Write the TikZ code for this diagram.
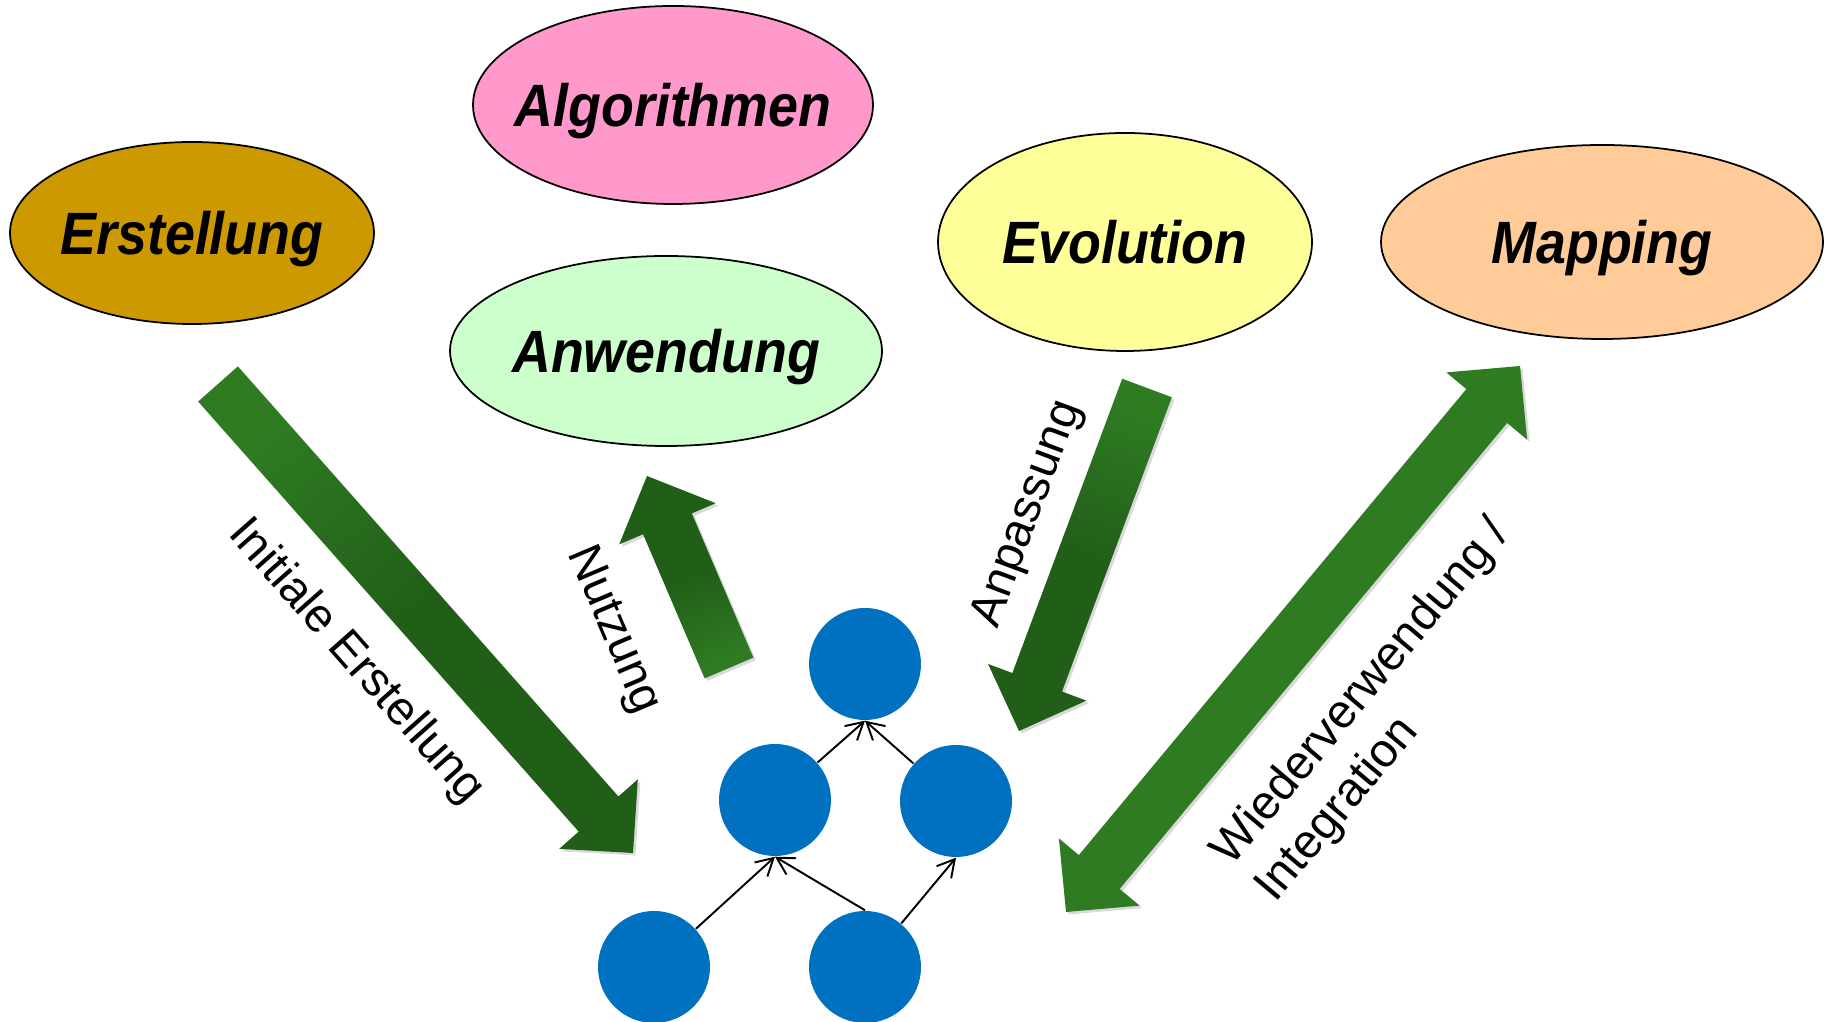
\documentclass[tikz,border=0pt]{standalone}
\usepackage{fontspec}
\setmainfont{Liberation Sans}
\newfontfamily\topicfont[FakeStretch=0.9]{Liberation Sans}
\usepackage{xcolor}
\usepackage{tikz}
\definecolor{erstcolor}{RGB}{204, 153, 0}
\definecolor{algocolor}{RGB}{255, 153, 204}
\definecolor{anwcolor}{RGB}{204, 255, 204}
\definecolor{evocolor}{RGB}{255, 255, 153}
\definecolor{mapcolor}{RGB}{255, 204, 153}
\definecolor{modelblue}{RGB}{0, 112, 192}
\definecolor{arrowlight}{RGB}{46, 123, 34}
\definecolor{arrowdark}{RGB}{33, 94, 24}
\usetikzlibrary{shapes.geometric, arrows.meta, calc, shadows}

% block arrow from tail #2 to tip #3
\newcommand{\blockarrow}[3][]{%
    \coordinate (hb) at ($(#3)!0.52cm!(#2)$);
    \path[greenarrow, #1] ($(#2)!0.265cm!90:(#3)$) -- ($(hb)!0.265cm!90:(#3)$)
        -- ($(hb)!0.525cm!90:(#3)$) -- (#3) -- ($(hb)!0.525cm!-90:(#3)$)
        -- ($(hb)!0.265cm!-90:(#3)$) -- ($(#2)!0.265cm!-90:(#3)$) -- cycle;
}
% block arrow with heads at both ends
\newcommand{\blockarrowboth}[3][]{%
    \coordinate (ha) at ($(#2)!0.52cm!(#3)$);
    \coordinate (hb) at ($(#3)!0.52cm!(#2)$);
    \path[greenarrow, #1] ($(ha)!0.265cm!90:(#3)$) -- ($(hb)!0.265cm!90:(#3)$)
        -- ($(hb)!0.525cm!90:(#3)$) -- (#3) -- ($(hb)!0.525cm!-90:(#3)$)
        -- ($(hb)!0.265cm!-90:(#3)$) -- ($(ha)!0.265cm!-90:(#3)$)
        -- ($(ha)!0.525cm!-90:(#3)$) -- (#2) -- ($(ha)!0.525cm!90:(#3)$) -- cycle;
}

\begin{document}
\begin{tikzpicture}[
    topic/.style={ellipse, draw=black, line width=0.5pt, inner sep=0pt},
    topiclabel/.style={font=\topicfont\fontsize{17}{20}\selectfont\bfseries\itshape, inner sep=0pt, text depth=0pt},
    model/.style={circle, fill=modelblue, minimum size=1.12cm, inner sep=0pt},
    edge/.style={line width=0.55pt, -{Straight Barb[length=1.7mm, width=1.9mm]}},
    greenarrow/.style={drop shadow={shadow xshift=0.025cm, shadow yshift=-0.025cm, opacity=0.3}},
    steplabel/.style={font=\fontsize{13.5}{16.2}\selectfont, inner sep=0pt, align=left}
]
    \useasboundingbox (0,0) rectangle (18.27,10.22);

    % topics
    \node[topic, fill=erstcolor, minimum width=3.64cm, minimum height=1.82cm,
        label={[topiclabel]center:Erstellung}] (erst) at (1.92, 7.89) {};
    \node[topic, fill=algocolor, minimum width=4.0cm, minimum height=1.98cm,
        label={[topiclabel]center:Algorithmen}] (algo) at (6.73, 9.17) {};
    \node[topic, fill=anwcolor, minimum width=4.32cm, minimum height=1.9cm,
        label={[topiclabel]center:Anwendung}] (anw) at (6.66, 6.71) {};
    \node[topic, fill=evocolor, minimum width=3.74cm, minimum height=2.18cm,
        label={[topiclabel]center:Evolution}] (evo) at (11.25, 7.80) {};
    \node[topic, fill=mapcolor, minimum width=4.42cm, minimum height=1.94cm,
        label={[topiclabel]center:Mapping}] (map) at (16.02, 7.80) {};

    % model graph
    \node[model] (top) at (8.65, 3.58) {};
    \node[model] (ml) at (7.75, 2.22) {};
    \node[model] (mr) at (9.56, 2.21) {};
    \node[model] (bl) at (6.54, 0.55) {};
    \node[model] (br) at (8.65, 0.55) {};
    \draw[edge] (ml) -- (top.south);
    \draw[edge] (mr) -- (top.south);
    \draw[edge] (bl) -- (ml.south);
    \draw[edge] (br.north) -- (ml.south);
    \draw[edge] (br) -- (mr.south);

    % big arrows
    \coordinate (init-tail) at (2.18, 6.38);
    \coordinate (init-tip) at (6.33, 1.69);
    \coordinate (nutz-tail) at (7.29, 3.54);
    \coordinate (nutz-tip) at (6.47, 5.46);
    \coordinate (anp-tail) at (11.47, 6.34);
    \coordinate (anp-tip) at (10.19, 2.91);
    \coordinate (wv-low) at (10.66, 1.10);
    \coordinate (wv-high) at (15.20, 6.56);
    \blockarrow[top color=arrowlight, bottom color=arrowdark, middle color=arrowdark, shading angle=41.5]{init-tail}{init-tip}
    \blockarrow[top color=arrowdark, bottom color=arrowlight, middle color=arrowdark, shading angle=23]{nutz-tail}{nutz-tip}
    \blockarrow[top color=arrowlight, bottom color=arrowdark, middle color=arrowdark, shading angle=-20.5]{anp-tail}{anp-tip}
    \blockarrowboth[fill=arrowlight]{wv-low}{wv-high}

    % arrow labels
    \node[steplabel, rotate=-48.5] (lblinit) at (3.56, 3.60) {Initiale Erstellung};
    \node[steplabel, rotate=-67] (lblnutz) at (6.13, 3.92) {Nutzung};
    \node[steplabel, rotate=69.5] (lblanp) at (10.28, 5.08) {Anpassung};
    \node[steplabel, rotate=50] (lblwv) at (13.84, 3.11) {Wiederverwendung /\\Integration};
\end{tikzpicture}
\end{document}
